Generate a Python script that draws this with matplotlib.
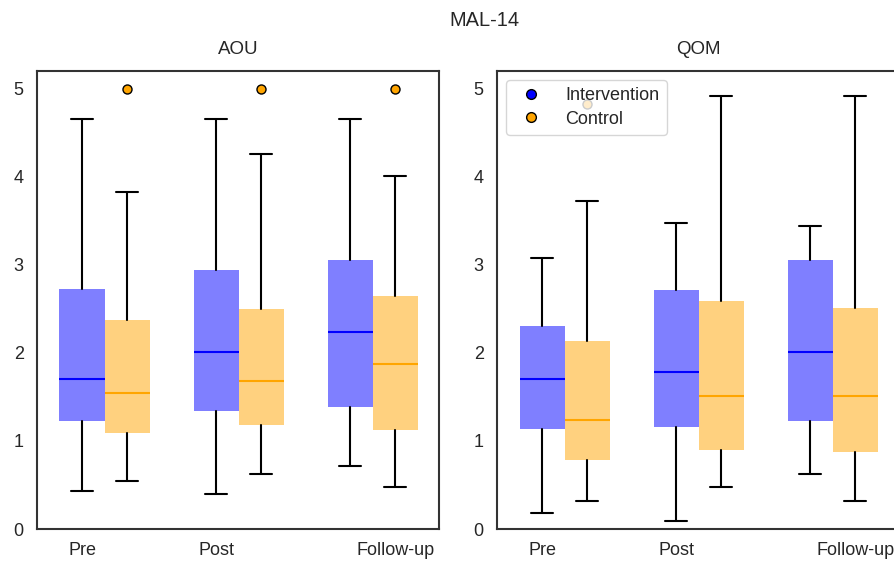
import matplotlib
matplotlib.use("Agg")
import matplotlib.pyplot as plt
import seaborn as sns
from matplotlib.lines import Line2D

sns.set_theme(style="white")
plt.rcParams['font.family'] = ['Liberation Sans', 'DejaVu Sans']

suptitle = "MAL-14"
panels = ["AOU", "QOM"]
timepoints = ["Pre", "Post", "Follow-up"]
groups = ["Intervention", "Control"]
group_colors = ["blue", "orange"]

# five-number summaries: (whislo, q1, med, q3, whishi)
aou_intervention = [(0.43, 1.23, 1.70, 2.72, 4.65),
                    (0.40, 1.34, 2.01, 2.94, 4.65),
                    (0.71, 1.38, 2.24, 3.06, 4.65)]
aou_control = [(0.55, 1.085, 1.55, 2.37, 3.83),
               (0.63, 1.18, 1.68, 2.50, 4.26),
               (0.48, 1.12, 1.87, 2.64, 4.01)]
aou_control_outliers = [[5.0], [5.0], [5.0]]
aou_intervention_outliers = [[], [], []]

qom_intervention = [(0.18, 1.13, 1.70, 2.31, 3.08),
                    (0.09, 1.16, 1.78, 2.71, 3.47),
                    (0.63, 1.23, 2.01, 3.05, 3.44)]
qom_control = [(0.32, 0.78, 1.24, 2.13, 3.72),
               (0.48, 0.90, 1.51, 2.59, 4.92),
               (0.32, 0.87, 1.51, 2.51, 4.92)]
qom_control_outliers = [[4.83], [], []]
qom_intervention_outliers = [[], [], []]

panel_data = [
    (aou_intervention, aou_intervention_outliers, aou_control, aou_control_outliers),
    (qom_intervention, qom_intervention_outliers, qom_control, qom_control_outliers),
]


def make_stats(summary, outliers):
    out = []
    for (lo, q1, med, q3, hi), fl in zip(summary, outliers):
        out.append(dict(whislo=lo, q1=q1, med=med, q3=q3, whishi=hi, fliers=fl))
    return out


fig = plt.figure(figsize=(8.95, 5.61), dpi=100)
ax_w = 0.449
ax_h = 0.8164
axes = [fig.add_axes([0.0413, 0.057, ax_w, ax_h]),
        fig.add_axes([0.5553, 0.057, ax_w, ax_h])]

width = 0.336
base = list(range(len(timepoints)))
for ax, title, (iv, ivo, ct, cto) in zip(axes, panels, panel_data):
    for k, (summ, outl) in enumerate([(iv, ivo), (ct, cto)]):
        col = group_colors[k]
        pos = [b + k * width for b in base]
        ax.bxp(make_stats(summ, outl), positions=pos, widths=width,
               patch_artist=True, showfliers=True,
               boxprops=dict(facecolor=col, alpha=0.5, linewidth=0),
               medianprops=dict(color=col, linewidth=1.5),
               whiskerprops=dict(color="black", linewidth=1.5),
               capprops=dict(color="black", linewidth=1.5),
               flierprops=dict(marker="o", markerfacecolor=col,
                               markeredgecolor="black", markersize=6.5,
                               linestyle="none"))
    ax.set_xlim(-width, 2 + 2 * width - 0.01)
    ax.set_ylim(0, 5.2)
    ax.set_yticks([0, 1, 2, 3, 4, 5])
    ax.set_xticks([base[0], base[1], base[2] + width])
    ax.set_xticklabels(timepoints)
    ax.tick_params(labelsize=13)
    ax.tick_params(axis="x", pad=3.5)
    ax.set_title(title, fontsize=13.5, pad=12)
    for sp in ax.spines.values():
        sp.set_color("#333333")
        sp.set_linewidth(1.5)

handles = [Line2D([], [], marker="o", linestyle="none", markerfacecolor=c,
                  markeredgecolor="black", markersize=7) for c in group_colors]
axes[1].legend(handles, groups, loc="upper left", fontsize=13,
               handletextpad=0.9, labelspacing=0.35)

fig.suptitle(suptitle, x=0.541, y=0.98, fontsize=14.4)
fig.savefig("out.png", dpi=100)
